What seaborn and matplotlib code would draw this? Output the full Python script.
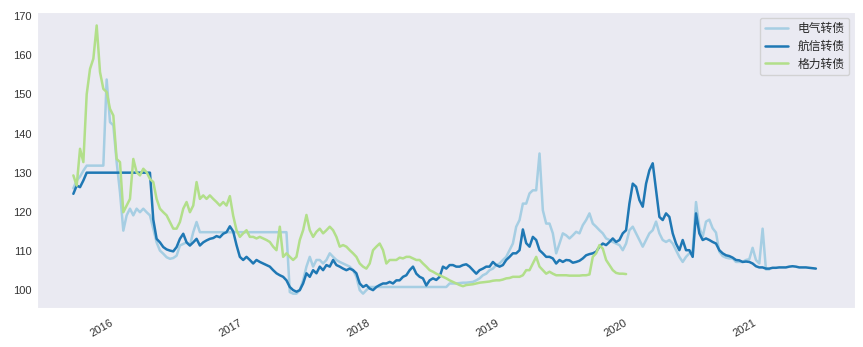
import matplotlib
matplotlib.use("Agg")
import matplotlib.pyplot as plt
import matplotlib.dates as mdates
import pandas as pd
import seaborn as sns

sns.set_style("dark")
plt.rcParams['font.family'] = ['Liberation Sans', 'Noto Sans CJK SC', 'DejaVu Sans']

names = ['电气转债', '航信转债', '格力转债']
colors = ['#a6cee3', '#1f78b4', '#b2df8a']
start_date = '2015-09-05'
step = '227h'

dianqi = [
    126.0, 128.0, 129.0, 130.5, 131.8, 131.8, 131.8, 131.8, 131.8, 131.8,
    153.8, 142.9, 142.1, 132.7, 125.0, 115.2, 119.1, 120.8, 119.1, 120.8,
    119.9, 120.8, 119.9, 119.1, 115.7, 112.2, 110.1, 109.3, 108.4, 108.0,
    108.2, 108.8, 111.4, 111.8, 112.2, 111.4, 114.8, 117.4, 114.8,
    114.8, 114.8, 114.8, 114.8, 114.8, 114.8, 114.8, 114.8, 114.8, 114.8,
    114.8, 114.8, 114.8, 114.8, 114.8, 114.8, 114.8, 114.8, 114.8, 114.8,
    114.8, 114.8, 114.8, 114.8, 114.8, 114.8,
    99.5, 99.1, 99.1, 100.0, 102.5, 106.0, 108.5, 106.0, 107.7, 107.7,
    106.8, 107.7, 109.4, 108.5, 107.7, 107.2, 106.8, 106.4, 106.0, 105.1,
    103.4, 100.0, 99.1, 100.0,
    100.8, 100.8, 100.8, 100.8, 100.8, 100.8, 100.8, 100.8, 100.8, 100.8,
    100.8, 100.8, 100.8, 100.8, 100.8, 100.8, 100.8, 100.8, 100.8, 100.8,
    100.8, 100.8, 100.8, 100.8,
    101.7, 101.7, 101.7, 101.8, 101.9, 101.9, 102.0, 102.1, 102.5, 103.0,
    103.8, 104.2, 105.1, 105.5, 106.4, 106.8, 107.7, 108.5, 110.2, 111.9,
    116.2, 117.9, 122.1, 122.1, 124.7, 125.5, 125.5, 134.9, 120.4, 117.0,
    117.0, 114.5, 109.4, 111.9, 114.5, 114.0, 113.2, 114.0, 114.9, 114.5,
    116.6, 117.9, 119.6, 117.0, 116.2, 115.3, 114.5, 113.2, 112.8, 112.3,
    111.9, 111.5, 110.2, 111.9, 115.3, 116.2, 114.5, 112.8, 111.1, 112.8,
    114.5, 115.3, 117.5, 114.5, 112.8, 112.3, 112.8, 111.9, 110.2, 108.5,
    107.2, 108.5, 109.4, 110.2, 122.5, 116.0, 113.6, 117.5, 118.0, 115.8,
    114.7, 109.8, 108.7, 108.3, 108.1, 108.1, 107.2, 107.2, 107.2, 107.7,
    107.9, 110.8, 107.7, 106.8, 115.7, 105.3, 105.3,
]

hangxin = [
    124.6, 126.7, 126.3, 128.0, 130.0,
    130.0, 130.0, 130.0, 130.0, 130.0, 130.0, 130.0, 130.0, 130.0, 130.0,
    130.0, 130.0, 130.0, 130.0, 130.0, 130.0, 130.0, 130.0, 130.0,
    118.0, 113.1, 112.2, 111.0, 110.4, 110.1, 109.9, 111.0, 113.1, 114.4,
    112.2, 111.4, 112.2, 113.1, 111.4, 112.2, 112.7, 113.1, 113.3, 113.8,
    113.5, 114.4, 114.8, 116.3, 115.0, 111.5, 108.5, 107.7, 108.5, 107.7,
    106.8, 107.7, 107.2, 106.8, 106.4, 106.0, 105.1, 104.3, 103.8, 103.4,
    102.5, 100.8, 100.0, 99.6, 100.0, 101.7, 104.3, 103.4, 105.1, 104.3,
    106.0, 105.1, 106.4, 106.0, 107.7, 106.4, 106.0, 105.5, 105.1, 105.5,
    105.1, 104.3, 101.7, 100.8, 101.3, 100.4, 100.0, 100.8, 101.3, 101.7,
    101.7, 102.1, 101.7, 102.5, 102.5, 103.4, 103.8, 105.1, 106.0, 104.2,
    103.4, 103.0, 101.2, 102.5, 103.0, 102.6, 103.4, 106.0, 105.5, 106.4,
    106.4, 106.0, 106.0, 106.4, 106.6, 106.0, 105.1, 104.2, 105.1, 105.5,
    106.0, 106.0, 107.2, 106.4, 106.0, 106.4, 107.7, 108.5, 109.4, 109.4,
    110.2, 115.5, 112.0, 111.1, 113.6, 112.8, 110.2, 109.4, 108.5, 108.5,
    108.1, 106.8, 107.7, 107.2, 107.7, 107.6, 107.0, 107.2, 107.5, 108.1,
    108.9, 109.2, 109.4, 109.8, 111.1, 111.9, 111.5, 112.3, 113.2, 112.3,
    112.8, 114.5, 115.3, 122.1, 127.2, 126.4, 123.0, 121.3, 127.2, 130.6,
    132.4, 125.5, 118.7, 117.9, 119.6, 118.7, 114.5, 111.9, 110.2, 112.8,
    110.2, 110.2, 108.5, 119.6, 114.5, 112.8, 113.2, 112.8, 112.3, 111.9,
    110.2, 109.4, 108.9, 108.7, 108.3, 107.7, 107.6, 107.2, 107.3, 107.2,
    106.8, 106.1, 105.8, 105.8, 105.5, 105.5, 105.7, 105.7, 105.8, 105.8,
    105.8, 106.0, 106.1, 106.0, 105.8, 105.8, 105.8, 105.7, 105.6, 105.5,
]

geli = [
    129.3, 126.7, 136.1, 132.7, 150.0, 156.5, 159.1, 167.6, 155.7, 151.4,
    150.6, 146.3, 144.6, 133.5, 132.7, 119.9, 121.6, 123.3, 133.5, 130.1,
    129.3, 131.0, 130.1, 128.4, 127.6, 123.3, 120.8, 119.9, 119.1, 117.4,
    115.7, 115.7, 117.4, 120.8, 122.5, 119.9, 121.6, 127.6, 123.3, 124.2,
    123.3, 124.2, 123.3, 122.5, 121.6, 122.5, 121.6, 124.0, 119.0, 115.3,
    113.6, 114.5, 115.3, 113.6, 113.6, 113.2, 113.6, 113.2, 112.8, 112.3,
    111.1, 110.2, 116.2, 108.5, 109.4, 108.5, 107.7, 108.5, 112.8, 115.3,
    119.2, 115.3, 113.6, 114.9, 115.7, 114.5, 115.3, 116.2, 115.3, 113.6,
    111.1, 111.5, 111.1, 110.2, 109.4, 108.5, 106.8, 106.0, 105.5, 106.8,
    110.2, 111.1, 111.9, 110.2, 106.8, 107.7, 107.7, 107.7, 108.3, 108.1,
    108.5, 108.5, 108.1, 107.7, 107.7, 106.8, 106.0, 105.1, 104.7, 104.2,
    103.8, 103.4, 103.0, 102.5, 102.1, 101.7, 101.3, 101.0, 101.3, 101.4,
    101.5, 101.7, 101.9, 102.0, 102.1, 102.2, 102.4, 102.5, 102.5, 102.7,
    103.0, 103.1, 103.4, 103.4, 103.4, 103.8, 105.1, 105.1, 106.8, 108.5,
    106.0, 105.1, 104.2, 104.7, 104.2, 103.8, 103.8, 103.8, 103.8, 103.7,
    103.7, 103.7, 103.7, 103.8, 103.8, 104.0, 108.5, 109.4, 111.5, 110.6,
    107.7, 106.4, 105.1, 104.4, 104.2, 104.2, 104.1,
]

dates = pd.date_range(start_date, periods=len(hangxin), freq=step)
frames = []
for name, vals in zip(names, [dianqi, hangxin, geli]):
    frames.append(pd.DataFrame({'date': dates[:len(vals)], 'value': vals, 'bond': name}))
df = pd.concat(frames, ignore_index=True)

fig = plt.figure(figsize=(8.63, 3.47), dpi=100)
ax = fig.add_axes([0.043, 0.112, 0.948, 0.853])
sns.lineplot(data=df, x='date', y='value', hue='bond', hue_order=names,
             palette=colors, linewidth=1.8, ax=ax)
ax.set_xlabel('')
ax.set_ylabel('')
ax.xaxis.set_major_locator(mdates.YearLocator())
ax.xaxis.set_major_formatter(mdates.DateFormatter('%Y'))
ax.tick_params(axis='both', labelsize=8, colors='#333333')
ax.tick_params(axis='y', pad=0.5)
for lbl in ax.get_xticklabels():
    lbl.set_rotation(30)
    lbl.set_ha('right')
ax.set_xlim(pd.Timestamp('2015-05-25'), pd.Timestamp('2021-10-04'))
ax.set_ylim(95.4, 171)
leg = ax.legend(loc='upper right', fontsize=8.5, frameon=True)
fig.savefig('out.png', dpi=100)
